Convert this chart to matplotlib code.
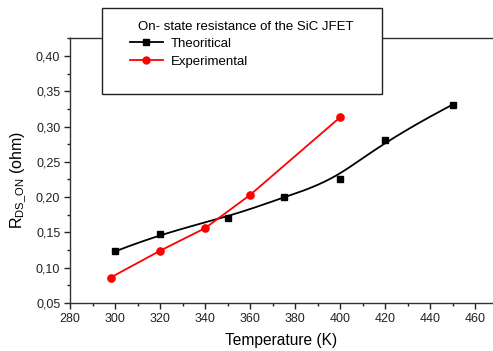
import numpy as np
import matplotlib
matplotlib.use("Agg")
import matplotlib.pyplot as plt
from matplotlib.ticker import MultipleLocator, FuncFormatter
from matplotlib.patches import Rectangle
from matplotlib.lines import Line2D

# Data
theo_T = [300, 320, 350, 375, 400, 420, 450]
theo_R = [0.123, 0.148, 0.171, 0.200, 0.226, 0.281, 0.331]
exp_T = [298, 320, 340, 360, 400]
exp_R = [0.086, 0.124, 0.156, 0.203, 0.313]
legend_title = "On- state resistance of the SiC JFET"
labels = ["Theoritical", "Experimental"]

plt.rcParams['font.family'] = ['Liberation Sans', 'DejaVu Sans']
plt.rcParams['mathtext.fontset'] = 'custom'
plt.rcParams['mathtext.rm'] = 'Liberation Sans'
plt.rcParams['mathtext.it'] = 'Liberation Sans:italic'


def bspline(xs, ys, n=200):
    # clamped cubic B-spline using the data points as control points
    P = np.column_stack([xs, ys]).astype(float)
    k = 3
    m = len(P)
    knots = np.concatenate([np.zeros(k), np.linspace(0, 1, m - k + 1), np.ones(k)])
    t = np.linspace(0, 1, n)
    t[-1] = 1 - 1e-12

    def basis(i, p, tt):
        if p == 0:
            return np.where((knots[i] <= tt) & (tt < knots[i + 1]), 1.0, 0.0)
        d1 = knots[i + p] - knots[i]
        d2 = knots[i + p + 1] - knots[i + 1]
        out = np.zeros_like(tt)
        if d1 > 0:
            out += (tt - knots[i]) / d1 * basis(i, p - 1, tt)
        if d2 > 0:
            out += (knots[i + p + 1] - tt) / d2 * basis(i + 1, p - 1, tt)
        return out

    B = np.array([basis(i, k, t) for i in range(m)])
    C = B.T @ P
    return C[:, 0], C[:, 1]


fig = plt.figure(figsize=(4.93, 3.51), dpi=100)
ax = fig.add_axes([70 / 493, 48 / 351, 423 / 493, 265 / 351])

cx, cy = bspline(theo_T, theo_R)
ax.plot(cx, cy, color='black', lw=1.3)
ax.plot(theo_T, theo_R, ls='none', marker='s', ms=4, color='black')
ax.plot(exp_T, exp_R, color='red', lw=1.3, marker='o', ms=5.2)

ax.set_xlim(280, 468)
ax.set_ylim(0.05, 0.4255)
ax.xaxis.set_major_locator(MultipleLocator(20))
ax.xaxis.set_minor_locator(MultipleLocator(10))
ax.yaxis.set_major_locator(MultipleLocator(0.05))
ax.yaxis.set_minor_locator(MultipleLocator(0.025))
ax.yaxis.set_major_formatter(FuncFormatter(lambda v, p: f"{v:.2f}".replace('.', ',')))
ax.tick_params(which='major', direction='out', length=4, width=1, labelsize=9,
               colors='#222222', pad=3)
ax.tick_params(which='minor', direction='out', length=2.2, width=1, colors='#222222')
ax.tick_params(axis='x', which='both', top=False)
ax.tick_params(axis='y', which='both', right=False)
ax.spines['right'].set_visible(False)
for s in ['left', 'bottom', 'top']:
    ax.spines[s].set_linewidth(1.0)
    ax.spines[s].set_color('#333333')

ax.set_xlabel("Temperature (K)", fontsize=11.2, labelpad=6)
ax.set_ylabel(r"R$_{\mathrm{DS\_ON}}$ (ohm)", fontsize=11.5)
ax.yaxis.set_label_coords(-0.100, 0.465)

# legend box
fig.patches.append(Rectangle((102 / 493, 1 - 94 / 351), 280 / 493, 86 / 351,
                             transform=fig.transFigure, facecolor='white',
                             edgecolor='#222222', lw=1.0, zorder=5))
fig.text(246 / 493, 1 - 26.5 / 351, legend_title, ha='center', va='center',
         fontsize=9.5, zorder=6)
h1 = Line2D([], [], color='black', lw=1.3, marker='s', ms=4)
h2 = Line2D([], [], color='red', lw=1.3, marker='o', ms=5)
leg = fig.legend([h1, h2], labels, loc='upper left',
                 bbox_to_anchor=(130 / 493, 1 - 37.5 / 351), frameon=False,
                 fontsize=9.5, handlelength=2.5, handletextpad=0.6,
                 labelspacing=0.45, borderpad=0, borderaxespad=0)
leg.set_zorder(7)

fig.savefig("out.png", dpi=100)
